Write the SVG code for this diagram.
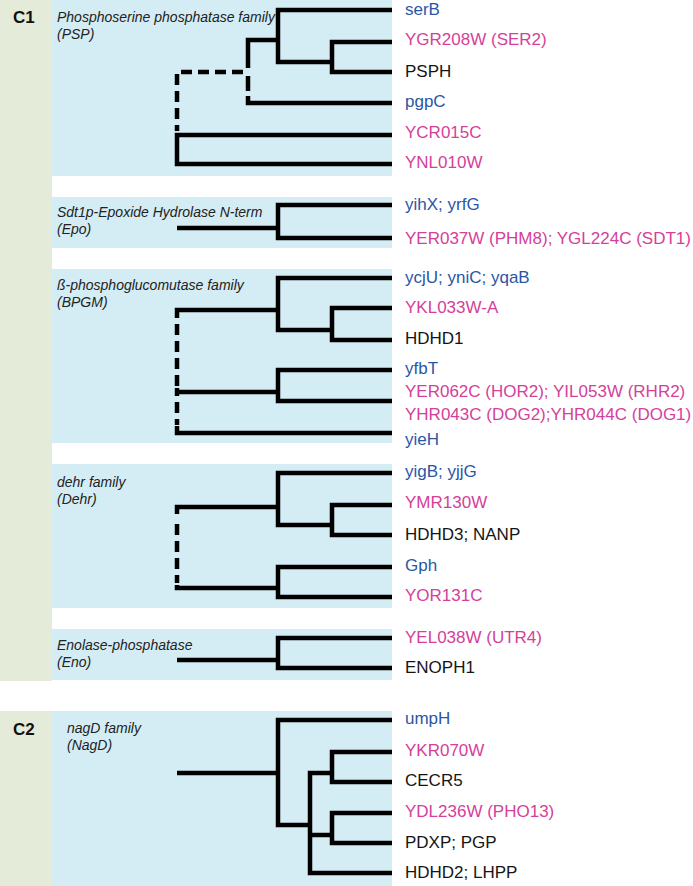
<svg xmlns="http://www.w3.org/2000/svg" width="693" height="886" viewBox="0 0 693 886">
<style>
.band{fill:#e4ebd8}
.panel{fill:#d4edf5}
.fam{font-family:"Liberation Sans",Arial,sans-serif;font-size:14px;font-style:italic;fill:#222}
.cl{font-family:"Liberation Sans",Arial,sans-serif;font-size:17px;font-weight:bold;fill:#111}
.lf{font-family:"Liberation Sans",Arial,sans-serif;font-size:17px}
.b{fill:#2b56a6}
.p{fill:#d5409a}
.k{fill:#151515}
.e{fill:none;stroke:#000;stroke-width:4.5;stroke-linejoin:miter}
.d{fill:none;stroke:#000;stroke-width:4.5;stroke-dasharray:11 6}
</style>
<rect width="693" height="886" fill="#fff"/>
<rect class="band" x="0" y="0" width="52" height="681"/>
<rect class="band" x="0" y="711" width="52" height="175"/>
<text class="cl" x="13" y="23">C1</text>
<text class="cl" x="13" y="735">C2</text>

<g id="psp">
<rect class="panel" x="52" y="0" width="340" height="176"/>
<text class="fam" x="57" y="22">Phosphoserine phosphatase family</text>
<text class="fam" x="57" y="39">(PSP)</text>
<text class="lf b" x="405" y="15">serB</text>
<text class="lf p" x="405" y="45">YGR208W (SER2)</text>
<text class="lf k" x="405" y="77">PSPH</text>
<text class="lf b" x="405" y="107">pgpC</text>
<text class="lf p" x="405" y="138">YCR015C</text>
<text class="lf p" x="405" y="168">YNL010W</text>
</g>

<g id="epo">
<rect class="panel" x="52" y="197" width="340" height="51"/>
<text class="fam" x="57" y="217">Sdt1p-Epoxide Hydrolase N-term</text>
<text class="fam" x="57" y="234">(Epo)</text>
<text class="lf b" x="405" y="210">yihX; yrfG</text>
<text class="lf p" x="405" y="244">YER037W (PHM8); YGL224C (SDT1)</text>
</g>

<g id="bpgm">
<rect class="panel" x="52" y="269" width="340" height="174"/>
<text class="fam" x="57" y="290">ß-phosphoglucomutase family</text>
<text class="fam" x="57" y="307">(BPGM)</text>
<text class="lf b" x="405" y="283">ycjU; yniC; yqaB</text>
<text class="lf p" x="405" y="313">YKL033W-A</text>
<text class="lf k" x="405" y="344">HDHD1</text>
<text class="lf b" x="405" y="374">yfbT</text>
<text class="lf p" x="405" y="397">YER062C (HOR2); YIL053W (RHR2)</text>
<text class="lf p" x="405" y="420">YHR043C (DOG2);YHR044C (DOG1)</text>
<text class="lf b" x="405" y="445">yieH</text>
</g>

<g id="dehr">
<rect class="panel" x="52" y="464" width="340" height="144"/>
<text class="fam" x="57" y="487">dehr family</text>
<text class="fam" x="57" y="504">(Dehr)</text>
<text class="lf b" x="405" y="477">yigB; yjjG</text>
<text class="lf p" x="405" y="508">YMR130W</text>
<text class="lf k" x="405" y="540">HDHD3; NANP</text>
<text class="lf b" x="405" y="571">Gph</text>
<text class="lf p" x="405" y="601">YOR131C</text>
</g>

<g id="eno">
<rect class="panel" x="52" y="629" width="340" height="51"/>
<text class="fam" x="57" y="650">Enolase-phosphatase</text>
<text class="fam" x="57" y="667">(Eno)</text>
<text class="lf p" x="405" y="643">YEL038W (UTR4)</text>
<text class="lf k" x="405" y="673">ENOPH1</text>
</g>

<g id="nagd">
<rect class="panel" x="52" y="711" width="340" height="175"/>
<text class="fam" x="67" y="733">nagD family</text>
<text class="fam" x="67" y="750">(NagD)</text>
<text class="lf b" x="405" y="724">umpH</text>
<text class="lf p" x="405" y="756">YKR070W</text>
<text class="lf k" x="405" y="786">CECR5</text>
<text class="lf p" x="405" y="817">YDL236W (PHO13)</text>
<text class="lf k" x="405" y="848">PDXP; PGP</text>
<text class="lf k" x="405" y="878">HDHD2; LHPP</text>
</g>

<g id="connectors">
<!-- PSP -->
<path class="e" d="M392,10 H278 V62 H332"/>
<path class="e" d="M392,42 H332 V72 H392"/>
<path class="e" d="M278,40 H248 V68"/>
<path class="e" d="M248,76 V91"/>
<path class="e" d="M248,96 V103 H392"/>
<path class="d" d="M243,72 H177 V131"/>
<path class="e" d="M392,135 H177 V164 H392"/>
<!-- Epo -->
<path class="e" d="M392,205 H278 V238 H392"/>
<path class="e" d="M177,228 H278"/>
<!-- BPGM -->
<path class="e" d="M392,278 H278 V330 H332"/>
<path class="e" d="M392,308 H332 V340 H392"/>
<path class="e" d="M278,310 H177 V318"/>
<path class="d" d="M177,324 V386"/>
<path class="e" d="M177,388 V396"/>
<path class="e" d="M177,392 H278"/>
<path class="d" d="M177,402 V425"/>
<path class="e" d="M177,426 V433 H392"/>
<path class="e" d="M392,370 H278 V401 H392"/>
<!-- Dehr -->
<path class="e" d="M392,473 H278 V525 H332"/>
<path class="e" d="M392,505 H332 V535 H392"/>
<path class="e" d="M278,507 H177 V514"/>
<path class="d" d="M177,524 V583"/>
<path class="e" d="M177,585 V588 H278"/>
<path class="e" d="M392,567 H278 V597 H392"/>
<!-- Eno -->
<path class="e" d="M177,660 H278"/>
<path class="e" d="M392,638 H278 V668 H392"/>
<!-- NagD -->
<path class="e" d="M177,773 H278"/>
<path class="e" d="M392,720 H278 V825 H310"/>
<path class="e" d="M332,773 H310 V873 H392"/>
<path class="e" d="M392,752 H332 V782 H392"/>
<path class="e" d="M310,835 H332"/>
<path class="e" d="M392,813 H332 V843 H392"/>
</g>
</svg>
